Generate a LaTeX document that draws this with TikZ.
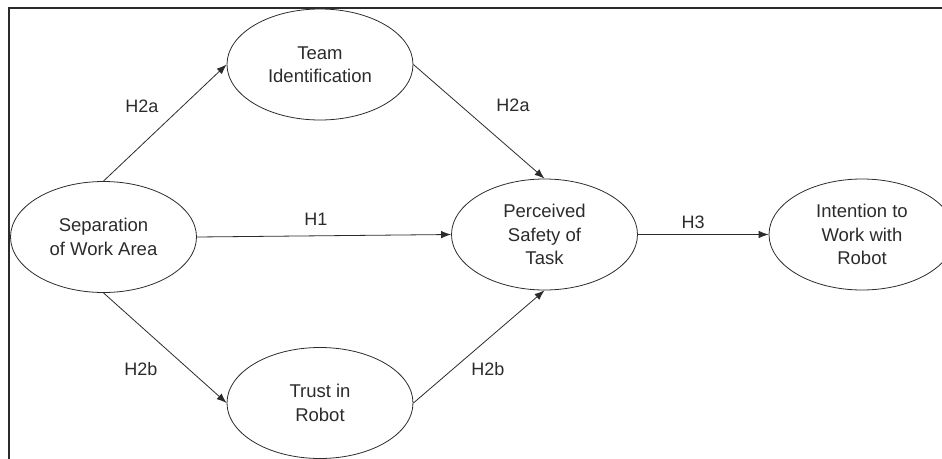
\documentclass[tikz,border=0pt]{standalone}
\usepackage{fontspec}
\setmainfont{Liberation Sans}
\usetikzlibrary{shapes.geometric,arrows.meta}
\definecolor{ink}{HTML}{2B2B2B}
\begin{document}
\begin{tikzpicture}[x=1pt,y=-1pt,
  construct/.style={ellipse,draw=ink,line width=0.8pt,minimum width=186pt,minimum height=111pt,inner sep=0pt,
    align=center,text=ink,font=\fontsize{18.5}{23.3}\selectfont},
  path/.style={draw=ink,line width=0.8pt,-{Latex[length=10pt,width=7.5pt]}},
  hlabel/.style={text=ink,font=\fontsize{18}{22}\selectfont,inner sep=0pt}]
\useasboundingbox (0,0) rectangle (942,458);
\clip (0,0) rectangle (942,458);
\draw[ink,line width=1.3pt] (9,470) -- (9,8) -- (950,8);
\node[construct] (sep) at (103.5,237) {Separation\\of Work Area};
\node[construct] (team) at (320,64.5) {Team\\Identification};
\node[construct] (trust) at (320,403) {Trust in\\Robot};
\node[construct] (safe) at (544.5,234.5) {Perceived\\Safety of\\Task};
\node[construct] (int) at (862,234.5) {Intention to\\Work with\\Robot};
\draw[path] (sep.north) -- (team.west);
\draw[path] (sep.south) -- (trust.west);
\draw[path] (team.east) -- (safe.north);
\draw[path] (trust.east) -- (safe.south);
\draw[path] (sep.east) -- (safe.west);
\draw[path] (safe.east) -- (int.west);
\node[hlabel] (l1) at (142,106) {H2a};
\node[hlabel] (l2) at (513,105) {H2a};
\node[hlabel] (l3) at (141,369) {H2b};
\node[hlabel] (l4) at (488,369) {H2b};
\node[hlabel] (l5) at (316,219) {H1};
\node[hlabel] (l6) at (693,222) {H3};
\end{tikzpicture}
\end{document}
